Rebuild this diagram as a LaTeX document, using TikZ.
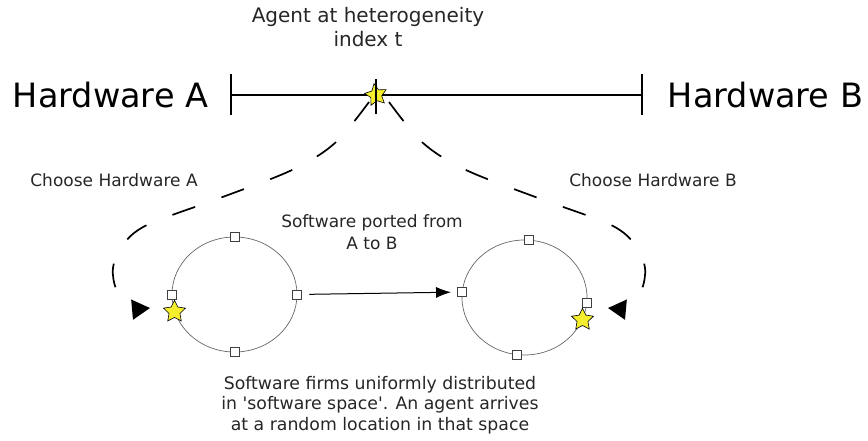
\documentclass[tikz,border=0pt]{standalone}
\usepackage{fontspec}
\setmainfont{DejaVu Sans}
\newfontfamily\dvs{DejaVu Sans}
\usetikzlibrary{shapes.geometric,arrows.meta}
\definecolor{staryellow}{RGB}{245,238,45}
\begin{document}
\begin{tikzpicture}[x=1pt,y=-1pt,
 lbl/.style={font=\dvs\fontsize{17}{22}\selectfont, inner sep=0pt, align=center, text=black!85},
 big/.style={font=\dvs\fontsize{33.5}{40}\selectfont, inner sep=0pt},
 starnode/.style={star, star points=5, star point ratio=2.0, minimum size=23pt, inner sep=0pt, fill=staryellow, draw=black, line width=0.6pt},
 portbox/.style={draw=black!75, fill=white, minimum size=9pt, inner sep=0pt, line width=0.8pt},
 swspace/.style={ellipse, draw=black!60, line width=0.7pt, minimum width=125pt, minimum height=115pt, inner sep=0pt},
 hwtick/.style={line width=2.6pt},
 hwaxis/.style={line width=1.8pt},
 choose/.style={line width=1.7pt, dash pattern=on 24pt off 28pt, -{Triangle[length=18pt,width=20pt]}},
 portarrow/.style={line width=1pt, -{Latex[length=15pt,width=11pt]}}
]
\useasboundingbox (0,0) rectangle (868,441);
% axis
\coordinate (hA) at (231,95);
\coordinate (hB) at (642,95);
\coordinate (hM) at (376,97);
\draw[hwaxis] (hA) -- (hB);
\draw[hwtick] ([yshift=20.5pt]hA) -- ([yshift=-20.5pt]hA);
\draw[hwtick] ([yshift=20.5pt]hB) -- ([yshift=-20.5pt]hB);
% dashed choice curves
\coordinate (aL) at (369,102);
\coordinate (aR) at (389,102);
\coordinate (tipA) at (150,308);
\coordinate (tipB) at (608,308);
\draw[choose] plot[smooth, tension=0.55] coordinates {(aL) (335,143) (292,170) (220,198) (147,225) (122,246) (113,268) (116,289) (126,303) (138,308) (tipA)};
\draw[choose] plot[smooth, tension=0.55] coordinates {(aR) (423,143) (466,170) (538,198) (611,225) (636,246) (645,268) (642,289) (632,303) (620,308) (tipB)};
% agent
\node[starnode, rotate=10] (agent) at (376,95) {};
\draw[hwtick] ([yshift=17.5pt]hM) -- ([yshift=-17.5pt]hM);
% software spaces
\node[swspace] (cA) at (234.5,294.5) {};
\node[swspace] (cB) at (524.5,297.5) {};
\node[portbox] (pAt) at (cA.90) {};
\node[portbox] (pAl) at (cA.180) {};
\node[portbox] (pAr) at (cA.0) {};
\node[portbox] (pAb) at (cA.270) {};
\node[portbox] (pBt) at (cB.86) {};
\node[portbox] (pBl) at (cB.175) {};
\node[portbox] (pBr) at (cB.355) {};
\node[portbox] (pBb) at (cB.262) {};
\node[starnode] (sA) at (cA.196) {};
\node[starnode] (sB) at (cB.339) {};
\draw[portarrow, shorten <=7pt, shorten >=6pt] (pAr) -- (pBl);
% texts
\node[big, anchor=base] (hwA) at (110.5,108) {Hardware A};
\node[big, anchor=base] (hwB) at (765.5,108) {Hardware B};
\node[lbl, anchor=base] (chA) at (114,186) {Choose Hardware A};
\node[lbl, anchor=base] (chB) at (653,186) {Choose Hardware B};
\node[lbl, anchor=north, font=\dvs\fontsize{20}{24}\selectfont] (title) at (368,7) {Agent at heterogeneity\\index t};
\node[lbl, anchor=north] (ported) at (372,214) {Software ported from\\A to B};
\node[lbl, anchor=north, font=\dvs\fontsize{17.3}{20.5}\selectfont] (desc) at (380,376) {Software firms uniformly distributed\\in 'software space'. An agent arrives\\at a random location in that space};
\end{tikzpicture}
\end{document}
